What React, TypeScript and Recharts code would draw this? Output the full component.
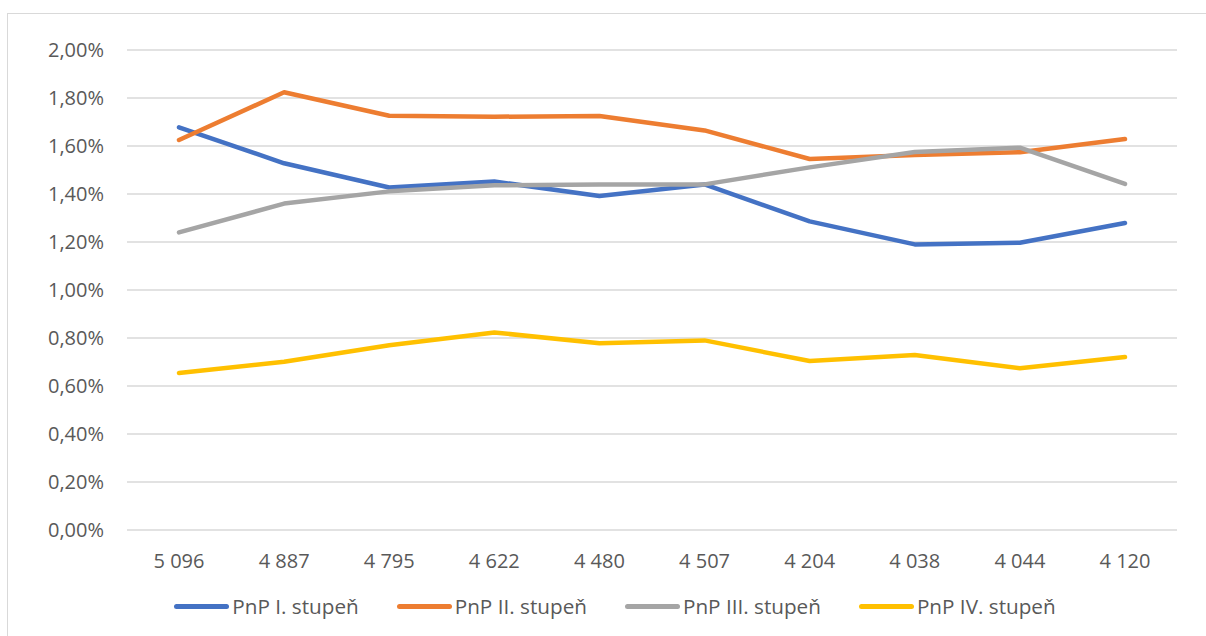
import React from 'react';
import { LineChart, Line, XAxis, YAxis, CartesianGrid, Legend } from 'recharts';

const categories = ['5 096', '4 887', '4 795', '4 622', '4 480', '4 507', '4 204', '4 038', '4 044', '4 120'];

const stupen1 = [1.678, 1.528, 1.427, 1.452, 1.392, 1.44, 1.286, 1.19, 1.197, 1.279];
const stupen2 = [1.625, 1.824, 1.726, 1.722, 1.725, 1.665, 1.546, 1.563, 1.574, 1.629];
const stupen3 = [1.24, 1.36, 1.411, 1.436, 1.44, 1.44, 1.511, 1.575, 1.593, 1.442];
const stupen4 = [0.654, 0.701, 0.77, 0.823, 0.778, 0.79, 0.704, 0.729, 0.674, 0.721];

const yTicks = [0, 0.2, 0.4, 0.6, 0.8, 1, 1.2, 1.4, 1.6, 1.8, 2];

const series = [
  { key: 's1', name: 'PnP I. stupeň', color: '#4472C4' },
  { key: 's2', name: 'PnP II. stupeň', color: '#ED7D31' },
  { key: 's3', name: 'PnP III. stupeň', color: '#A5A5A5' },
  { key: 's4', name: 'PnP IV. stupeň', color: '#FFC000' },
];

const data = categories.map((c, i) => ({
  cat: c,
  s1: stupen1[i],
  s2: stupen2[i],
  s3: stupen3[i],
  s4: stupen4[i],
}));

const fmtPct = (v: number) => v.toFixed(2).replace('.', ',') + '%';

const LegendBox = () => (
  <div
    style={{
      height: 40,
      display: 'flex',
      justifyContent: 'center',
      alignItems: 'center',
      paddingLeft: 53,
      gap: 38,
    }}
  >
    {series.map((s) => (
      <div key={s.key} style={{ display: 'flex', alignItems: 'center' }}>
        <div style={{ width: 55, height: 5, borderRadius: 3, background: s.color, marginRight: 3 }} />
        <span style={{ color: '#595959', fontSize: 20.7 }}>{s.name}</span>
      </div>
    ))}
  </div>
);

export default function App() {
  return (
    <div
      style={{
        position: 'absolute',
        left: 0,
        top: 0,
        width: 1206,
        height: 636,
        overflow: 'hidden',
        background: '#fff',
        fontFamily: '"Open Sans", sans-serif',
      }}
    >
      <div
        style={{
          position: 'absolute',
          left: 7,
          top: 13,
          width: 1230,
          height: 650,
          border: '1px solid #d9d9d9',
        }}
      />
      <div style={{ position: 'absolute', left: 0, top: 0 }}>
        <LineChart width={1206} height={636} data={data} margin={{ top: 50, right: 29, left: 0, bottom: 10 }}>
          <CartesianGrid vertical={false} stroke="#d9d9d9" strokeWidth={1.5} />
          <XAxis
            dataKey="cat"
            axisLine={false}
            tickLine={false}
            tickSize={0}
            tickMargin={24}
            height={56}
            padding={{ left: 52, right: 52 }}
            tick={{ fill: '#595959', fontSize: 20 }}
          />
          <YAxis
            width={127}
            domain={[0, 2]}
            ticks={yTicks}
            axisLine={false}
            tickLine={false}
            tickSize={0}
            tickMargin={23}
            tickFormatter={fmtPct}
            tick={{ fill: '#595959', fontSize: 20 }}
          />
          <Legend verticalAlign="bottom" content={() => <LegendBox />} />
          {series.map((s) => (
            <Line
              key={s.key}
              type="linear"
              dataKey={s.key}
              name={s.name}
              stroke={s.color}
              strokeWidth={4.5}
              strokeLinecap="round"
              strokeLinejoin="round"
              dot={false}
              activeDot={false}
              isAnimationActive={false}
            />
          ))}
        </LineChart>
      </div>
    </div>
  );
}
